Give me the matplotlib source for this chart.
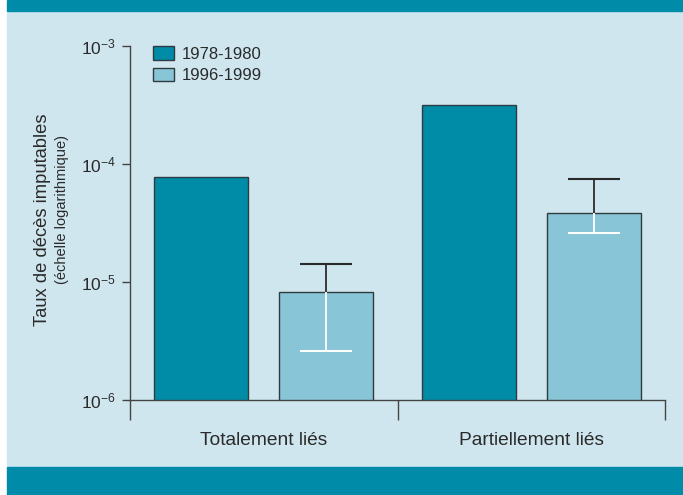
import matplotlib
matplotlib.use("Agg")
import matplotlib.pyplot as plt
from matplotlib.patches import Rectangle
import numpy as np

# data
groups = ["Totalement liés", "Partiellement liés"]
periods = ["1978-1980", "1996-1999"]
rate_early = [7.8e-5, 3.15e-4]      # 1978-1980
rate_late = [8.2e-6, 3.85e-5]       # 1996-1999
late_low = [2.6e-6, 2.6e-5]
late_high = [1.42e-5, 7.5e-5]
yticks = [1e-6, 1e-5, 1e-4, 1e-3]
ytick_labels = ["-6", "-5", "-4", "-3"]

BAND = "#008ca9"
BG = "#cfe6ee"
DARK = "#008ba7"
LIGHT = "#88c5d6"
EDGE = "#2f3b40"
INK = "#2a2a2a"
FONT = ["Liberation Sans", "DejaVu Sans"]

plt.rcParams["font.family"] = FONT
plt.rcParams["mathtext.fontset"] = "custom"
plt.rcParams["mathtext.rm"] = "Liberation Sans"

W, H = 683, 495
fig = plt.figure(figsize=(W / 100, H / 100), dpi=100, facecolor="white")
# background panel + top/bottom bands
fig.patches.append(Rectangle((7 / W, 28 / H), 1 - 7 / W, (467 - 11) / H,
                             transform=fig.transFigure, color=BG, zorder=-2))
fig.patches.append(Rectangle((7 / W, 1 - 11 / H), 1 - 7 / W, 11 / H,
                             transform=fig.transFigure, color=BAND, zorder=-2))
fig.patches.append(Rectangle((7 / W, 0), 1 - 7 / W, 28 / H,
                             transform=fig.transFigure, color=BAND, zorder=-2))

ax = fig.add_axes([130 / W, 95 / H, 535 / W, 354 / H])
ax.set_facecolor("none")

x = np.array([0.5, 1.5])
off, bw = 0.233, 0.351
ax.bar(x - off, rate_early, bw, color=DARK, edgecolor=EDGE, linewidth=1,
       label=periods[0], zorder=2)
ax.bar(x + off, rate_late, bw, color=LIGHT, edgecolor=EDGE, linewidth=1,
       label=periods[1], zorder=2)

# error bars: dark above the bar, white inside it
cap = 0.097
xe = x + off
ax.vlines(xe, rate_late, late_high, color=INK, lw=1.3, zorder=3)
ax.hlines(late_high, xe - cap, xe + cap, color=INK, lw=1.5, zorder=3)
ax.vlines(xe, late_low, rate_late, color="white", lw=1.3, zorder=3)
ax.hlines(late_low, xe - cap, xe + cap, color="white", lw=1.5, zorder=3)

ax.set_yscale("log")
ax.set_ylim(1e-6, 1e-3)
ax.set_xlim(0, 2)
ax.set_yticks(yticks)
ax.set_yticklabels([r"$\mathregular{10^{%s}}$" % t for t in ytick_labels],
                   fontsize=12.5, color=INK)
ax.yaxis.set_minor_locator(matplotlib.ticker.NullLocator())
ax.tick_params(axis="y", length=6, width=1, color="#444444", pad=4)
ax.set_xticks([0, 1, 2])
ax.set_xticklabels([])
ax.tick_params(axis="x", length=14.4, width=1, color="#444444")
for s in ("top", "right"):
    ax.spines[s].set_visible(False)
for s in ("left", "bottom"):
    ax.spines[s].set_color("#444444")
    ax.spines[s].set_linewidth(1)

for xi, g in zip(x, groups):
    ax.text(xi, -0.113, g, transform=ax.get_xaxis_transform(), ha="center",
            va="center", fontsize=13.8, color=INK)

fig.text(43 / W, 1 - 220 / H, "Taux de décès imputables", rotation=90,
         ha="center", va="center", fontsize=13.2, color=INK)
fig.text(62 / W, 1 - 209 / H, "(échelle logarithmique)", rotation=90,
         ha="center", va="center", fontsize=10.5, color=INK)

ax.legend(loc="upper left", bbox_to_anchor=(153 / W, 1 - 46 / H),
          bbox_transform=fig.transFigure, frameon=False, borderpad=0,
          borderaxespad=0, handlelength=1.25, handleheight=0.9,
          handletextpad=0.45, labelspacing=0.35, labelcolor=INK,
          prop={"size": 12})

fig.savefig("out.png", dpi=100, facecolor="white")
